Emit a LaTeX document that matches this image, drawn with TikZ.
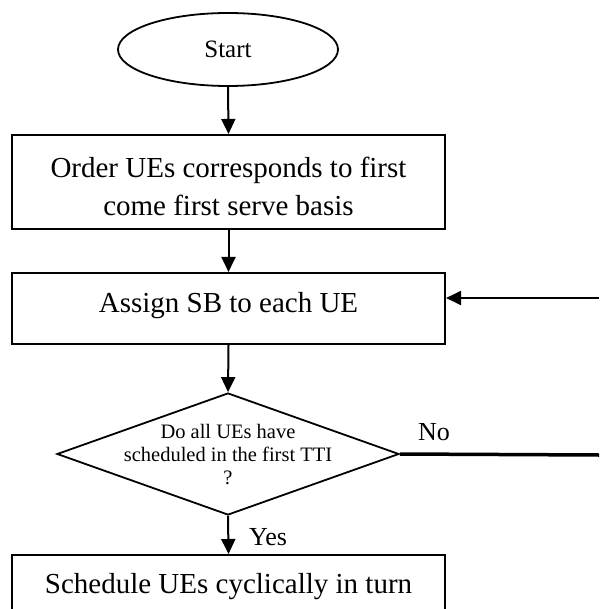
\documentclass[tikz,border=0pt]{standalone}
\usepackage{fontspec}
\setmainfont{Liberation Serif}
\usetikzlibrary{shapes.geometric,arrows.meta}
\tikzset{
  box/.style={draw, line width=2.1pt, minimum width=433pt, inner sep=0pt, align=center,
    font=\fontsize{29}{38}\selectfont},
  arr/.style={line width=2pt, -{Triangle[length=15pt,width=14pt]}},
  lbl/.style={font=\fontsize{26}{30}\selectfont, inner sep=0pt},
}
\begin{document}
\begin{tikzpicture}[x=1pt,y=-1pt]
\clip (0,0) rectangle (599,609);
\useasboundingbox (0,0) rectangle (599,609);
\node[draw, ellipse, line width=1.8pt, minimum width=220pt, minimum height=73pt, inner sep=0pt,
  font=\fontsize{25}{30}\selectfont] (start) at (228,49.5) {Start};
\node[box, minimum height=94pt, text depth=0pt] (order) at (228.5,182) {};
\node[font=\fontsize{29}{38}\selectfont, align=center, inner sep=0pt] (ordertext) at (228.5,186) {Order UEs corresponds to first\\come first serve basis};
\node[box, minimum height=71pt] (assign) at (228.5,308.5) {};
\node[font=\fontsize{29}{38}\selectfont, inner sep=0pt] (assigntext) at (228.5,306) {Assign SB to each UE};
\node[draw, diamond, line width=1.8pt, minimum width=342pt, minimum height=122pt, inner sep=0pt] (dec) at (228,454) {};
\node[font=\fontsize{20.5}{23}\selectfont, align=center, inner sep=0pt] (dectext) at (228,455) {Do all UEs have\\scheduled in the first TTI\\?};
\node[box, minimum height=80pt, anchor=north] (sched) at (228.5,554) {};
\node[font=\fontsize{29}{38}\selectfont, inner sep=0pt] (schedtext) at (228.5,587) {Schedule UEs cyclically in turn};
\coordinate (noend) at (599,455);
\coordinate (backin) at (599,298);
\draw[arr] (start.south) -- (order.north);
\draw[arr] (order.south) -- (assign.north);
\draw[arr] (assign.south) -- (dec.north);
\draw[arr] (dec.south) -- (sched.north);
\draw[line width=3.5pt] (dec.east) -- (noend);
\draw[arr] (backin) -- (assign.east |- backin);
\node[lbl] (no) at (434,432) {No};
\node[lbl] (yes) at (268,537) {Yes};
\end{tikzpicture}
\end{document}
